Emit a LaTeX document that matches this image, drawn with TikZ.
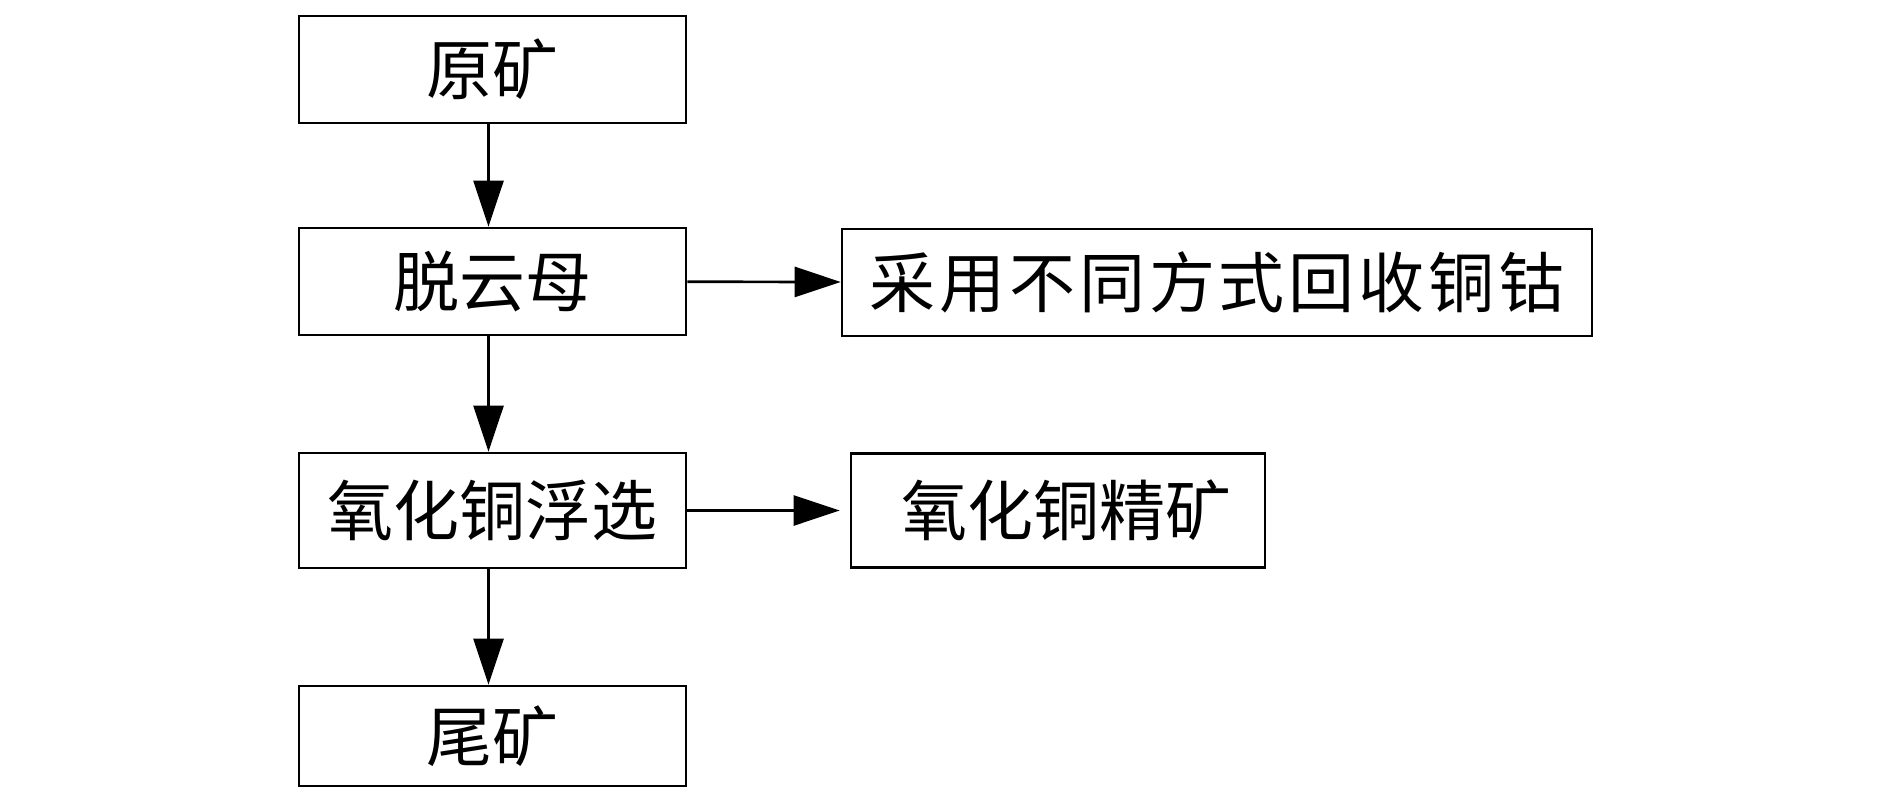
\documentclass[tikz,border=0pt]{standalone}
\usepackage{fontspec}
\newfontfamily\cjk{Noto Sans CJK SC}
\newfontfamily\cjkwide[LetterSpace=6]{Noto Sans CJK SC}
\usetikzlibrary{arrows.meta}
\begin{document}
\begin{tikzpicture}[x=0.5pt,y=-0.5pt,
  box/.style={draw,line width=1.35pt,rectangle,inner sep=0pt,font=\cjk\fontsize{33pt}{36pt}\selectfont},
  flow/.style={line width=1.35pt,-{Triangle[width=15pt,length=23pt]}}]
\useasboundingbox (0,0) rectangle (1890,803);
\node[box,minimum width=193.5pt,minimum height=53.5pt] (yuan) at (492.5,69.5) {原矿};
\node[box,minimum width=193.5pt,minimum height=53.5pt] (tuo) at (492.5,281.5) {脱云母};
\node[box,minimum width=375pt,minimum height=53.5pt,font=\cjkwide\fontsize{33pt}{36pt}\selectfont] (cai) at (1217,282.5) {采用不同方式回收铜钴};
\node[box,minimum width=193.5pt,minimum height=57.5pt] (yang) at (492.5,510.5) {氧化铜浮选};
\node[box,minimum width=207pt,minimum height=57pt] (jing) at (1058,510.5) {\hspace{8pt}氧化铜精矿};
\node[box,minimum width=193.5pt,minimum height=50pt] (wei) at (492.5,736) {尾矿};
\draw[flow] ([xshift=-2pt]yuan.south) -- ([xshift=-2pt]tuo.north);
\draw[flow] ([xshift=-2pt]tuo.south) -- ([xshift=-2pt]yang.north);
\draw[flow] ([xshift=-2pt]yang.south) -- ([xshift=-2pt]wei.north);
\draw[flow] (tuo) -- (cai);
\draw[flow,shorten >=5pt] (yang) -- (jing);
\end{tikzpicture}
\end{document}
